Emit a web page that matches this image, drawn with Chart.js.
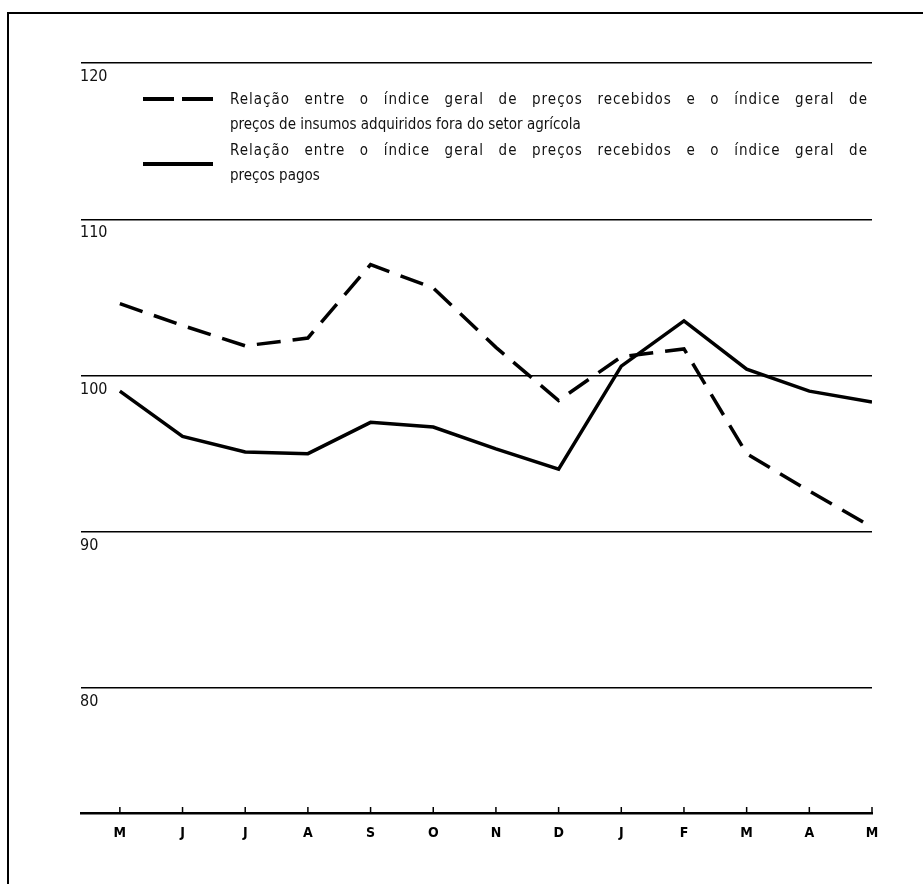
<!DOCTYPE html>
<html>
<head>
<meta charset="utf-8">
<script src="https://cdn.jsdelivr.net/npm/chart.js@4.4.0/dist/chart.umd.min.js"></script>
<style>
    html, body { margin: 0; padding: 0; background: #fff; }
    #wrap { position: relative; width: 923px; height: 884px; overflow: hidden; }
    #frame { position: absolute; left: 7px; top: 12px; width: 930px; height: 880px;
             border-left: 2px solid #000; border-top: 2px solid #000; }
    #chart { position: absolute; left: 0; top: 0; }
    .legend { position: absolute; left: 0; top: 0; width: 923px; height: 884px;
              font-family: 'Liberation Sans Narrow', 'DejaVu Sans Condensed', 'Liberation Sans', sans-serif;
              font-size: 15px; color: #111; pointer-events: none; }
    .row { position: absolute; left: 230px; width: 638px; white-space: nowrap; line-height: 18px; }
    .just { text-align: justify; text-align-last: justify; white-space: normal; letter-spacing: 1px; }
    .swatch { position: absolute; background: #000; }
</style>
</head>
<body>
<div id="wrap">
    <div id="frame"></div>
    <canvas id="chart" width="923" height="884"></canvas>
    <div class="legend">
        <div class="swatch" style="left:143px; top:97px; width:31px; height:4px;"></div>
        <div class="swatch" style="left:182px; top:97px; width:31px; height:4px;"></div>
        <div class="row just" style="top:90px;">Relação entre o índice geral de preços recebidos e o índice geral de</div>
        <div class="row" style="top:115px;">preços de insumos adquiridos fora do setor agrícola</div>
        <div class="swatch" style="left:143px; top:162px; width:70px; height:4px;"></div>
        <div class="row just" style="top:141px;">Relação entre o índice geral de preços recebidos e o índice geral de</div>
        <div class="row" style="top:166px;">preços pagos</div>
    </div>
</div>
<script>
// months from May to May
const months = ['M', 'J', 'J', 'A', 'S', 'O', 'N', 'D', 'J', 'F', 'M', 'A', 'M'];
const yTicks = [80, 90, 100, 110, 120];

// recebidos / insumos adquiridos fora do setor agrícola (dashed)
const relInsumos = [104.6, 103.2, 101.9, 102.4, 107.1, 105.6, 101.8, 98.4, 101.2, 101.7, 95.0, 92.6, 90.3];
// recebidos / preços pagos (solid)
const relPagos = [99.0, 96.1, 95.1, 95.0, 97.0, 96.7, 95.3, 94.0, 100.6, 103.5, 100.4, 99.0, 98.3];

const narrow = "'Liberation Sans Narrow', 'DejaVu Sans Condensed', sans-serif";
const ctx = document.getElementById('chart').getContext('2d');

// small tick marks sitting on top of the x axis line
const axisTicks = {
    id: 'axisTicks',
    afterDraw(chart) {
        const xs = chart.scales.x;
        const bottom = chart.chartArea.bottom;
        const c = chart.ctx;
        c.save();
        c.strokeStyle = '#000';
        c.lineWidth = 1.5;
        months.forEach((m, i) => {
            const px = xs.getPixelForValue(i);
            c.beginPath();
            c.moveTo(px, bottom);
            c.lineTo(px, bottom - 6);
            c.stroke();
        });
        c.restore();
    }
};

new Chart(ctx, {
    type: 'line',
    data: {
        datasets: [{
            label: 'Relação entre o índice geral de preços recebidos e o índice geral de preços de insumos adquiridos fora do setor agrícola',
            data: relInsumos.map((v, i) => ({ x: i, y: v })),
            borderColor: '#000',
            borderWidth: 3.5,
            borderDash: [24, 12],
            pointRadius: 0,
            tension: 0,
            fill: false
        }, {
            label: 'Relação entre o índice geral de preços recebidos e o índice geral de preços pagos',
            data: relPagos.map((v, i) => ({ x: i, y: v })),
            borderColor: '#000',
            borderWidth: 3.5,
            pointRadius: 0,
            tension: 0,
            fill: false
        }]
    },
    options: {
        responsive: false,
        animation: false,
        layout: { padding: { left: 81, right: 51, top: 63, bottom: 31 } },
        plugins: {
            legend: { display: false },
            tooltip: { enabled: false }
        },
        scales: {
            x: {
                type: 'linear',
                min: -0.62,
                max: 12,
                afterBuildTicks: scale => { scale.ticks = months.map((m, i) => ({ value: i })); },
                afterFit: scale => { scale.height = 40; },
                grid: { display: false, drawTicks: false },
                border: { display: true, color: '#000', width: 2.5 },
                ticks: {
                    padding: 12,
                    color: '#000',
                    font: { family: narrow, size: 14, weight: 'bold' },
                    callback: value => months[value]
                }
            },
            y: {
                min: 72,
                max: 120,
                afterBuildTicks: scale => { scale.ticks = yTicks.map(v => ({ value: v })); },
                afterFit: scale => { scale.width = 0; },
                grid: { color: '#000', lineWidth: 1.5, drawTicks: false },
                border: { display: false },
                ticks: {
                    mirror: true,
                    padding: -1,
                    labelOffset: 14,
                    color: '#111',
                    font: { family: narrow, size: 16 }
                }
            }
        }
    },
    plugins: [axisTicks]
});
</script>
</body>
</html>
